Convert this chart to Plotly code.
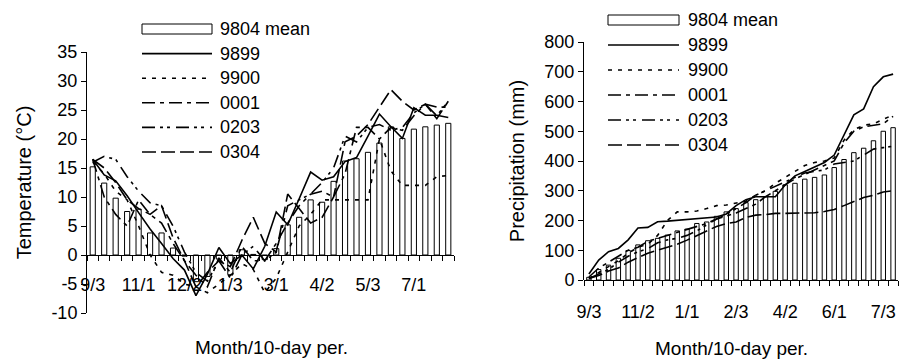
import plotly.graph_objects as go

# ---------------- data ----------------
periods = ["9/3", "10/1", "10/2", "10/3", "11/1", "11/2", "11/3", "12/1", "12/2", "12/3",
           "1/1", "1/2", "1/3", "2/1", "2/2", "2/3", "3/1", "3/2", "3/3", "4/1", "4/2", "4/3",
           "5/1", "5/2", "5/3", "6/1", "6/2", "6/3", "7/1", "7/2", "7/3", "8/1"]

series_names = ["9804 mean", "9899", "9900", "0001", "0203", "0304"]

temp_mean = [15.2, 12.4, 9.8, 7.5, 7.9, 3.8, 3.8, 1.2, -0.2, -4.6, -3.7, -0.7, -3.4, 0.9, 0.1, -0.8,
             1.1, 5.2, 6.5, 9.5, 9.1, 12.7, 16.2, 16.6, 17.7, 19.3, 22.1, 20.1, 21.7, 22.1, 22.4, 22.7]
temp_9899 = [16.5, 13.8, 12.8, 10.2, 7.3, 4.5, 2.0, -0.6, -2.6, -7.0, -3.3, 1.3, -1.5, 0.0, -2.4, 1.5,
             7.4, 5.2, 9.7, 14.3, 12.9, 13.5, 16.1, 16.8, 20.5, 24.3, 22.1, 20.1, 25.4, 24.1, 24.1, 23.7]
temp_9900 = [16.0, 14.0, 11.0, 9.5, 5.0, 0.0, -3.0, -3.5, -5.0, -5.5, -6.5, -5.0, -3.5, -1.5, -2.5, -6.5,
             -4.0, 0.5, 5.0, 7.0, 9.5, 9.5, 9.5, 9.5, 9.5, 20.0, 14.5, 12.0, 12.0, 12.0, 13.5, 13.7]
temp_0001 = [16.5, 10.0, 7.0, 5.0, 9.5, 7.0, 5.5, 2.0, -1.0, -3.5, -5.5, -0.5, -3.0, 1.5, -1.0, -1.0,
             2.0, 5.5, 8.5, 10.5, 11.0, 10.0, 14.0, 22.0, 22.0, 20.0, 22.0, 21.5, 24.0, 26.0, 25.5, 25.5]
temp_0203 = [16.0, 17.0, 16.5, 13.5, 11.0, 9.0, 8.5, 5.0, 0.5, -3.0, -4.5, -1.0, -4.0, 0.0, 1.5, -1.0,
             0.5, 8.5, 9.5, 10.5, 12.5, 15.0, 20.5, 19.5, 22.0, 22.5, 21.5, 22.0, 24.5, 26.0, 24.0, 26.5]
temp_0304 = [16.5, 15.0, 12.5, 9.5, 8.0, 7.0, 8.5, 3.0, -1.0, -5.5, -3.0, -1.0, -2.0, 2.5, 6.5, 2.0,
             0.5, 10.5, 8.0, 5.5, 6.5, 10.0, 19.5, 20.5, 22.5, 25.5, 28.5, 26.5, 25.0, 26.0, 23.5, 26.5]

prec_mean = [9, 35, 50, 73, 99, 118, 132, 140, 151, 165, 171, 190, 195, 214, 229, 240,
             260, 270, 280, 298, 320, 325, 339, 345, 353, 378, 405, 428, 443, 468, 500, 512]
prec_9899 = [20, 67, 95, 106, 135, 175, 177, 196, 198, 201, 204, 207, 210, 212, 222, 250,
             270, 280, 280, 280, 319, 350, 365, 380, 395, 420, 490, 555, 575, 650, 683, 692]
prec_9900 = [5, 25, 45, 65, 90, 110, 120, 150, 200, 229, 229, 232, 240, 250, 252, 258,
             265, 285, 300, 325, 345, 365, 385, 395, 400, 410, 470, 505, 520, 525, 540, 555]
prec_0001 = [10, 40, 60, 80, 100, 110, 130, 140, 150, 160, 170, 180, 190, 205, 215, 225,
             240, 255, 280, 300, 320, 340, 355, 370, 385, 400, 460, 500, 515, 520, 525, 550]
prec_0203 = [5, 20, 35, 60, 80, 95, 105, 125, 135, 140, 150, 165, 185, 205, 220, 240,
             260, 285, 300, 315, 330, 345, 360, 365, 370, 390, 395, 400, 420, 440, 445, 450]
prec_0304 = [5, 15, 30, 40, 60, 75, 90, 100, 110, 120, 134, 150, 165, 180, 190, 195,
             210, 218, 220, 224, 224, 224, 224, 226, 230, 237, 250, 263, 277, 285, 296, 300]

temp_ticks = [-10, -5, 0, 5, 10, 15, 20, 25, 30, 35]
prec_ticks = [0, 100, 200, 300, 400, 500, 600, 700, 800]

temp_lines = [temp_9899, temp_9900, temp_0001, temp_0203, temp_0304]
prec_lines = [prec_9899, prec_9900, prec_0001, prec_0203, prec_0304]

# ---------------- styling ----------------
W, H = 900, 361
FONT = "Arial, Liberation Sans, sans-serif"
dashes = ["solid", "4px,6px", "13px,5px,4px,5px", "13px,5px,3px,4px,3px,6px", "14px,5px"]
LW = 1.6


def fx(x):
    return x / W


def fy(y):
    return 1 - y / H


n = len(periods)
xr = [-0.5, n - 0.5]

fig = go.Figure()

# left chart (temperature)
fig.add_trace(go.Bar(x=periods, y=temp_mean, name=series_names[0], xaxis="x", yaxis="y",
                     marker=dict(color="white", line=dict(color="black", width=1)),
                     showlegend=False))
for name, vals, d in zip(series_names[1:], temp_lines, dashes):
    fig.add_trace(go.Scatter(x=periods, y=vals, name=name, mode="lines", xaxis="x", yaxis="y",
                             line=dict(color="black", width=LW, dash=d), showlegend=False))

# right chart (precipitation)
fig.add_trace(go.Bar(x=periods, y=prec_mean, name=series_names[0], xaxis="x2", yaxis="y2",
                     marker=dict(color="white", line=dict(color="black", width=1)),
                     showlegend=False))
for name, vals, d in zip(series_names[1:], prec_lines, dashes):
    fig.add_trace(go.Scatter(x=periods, y=vals, name=name, mode="lines", xaxis="x2", yaxis="y2",
                             line=dict(color="black", width=LW, dash=d), showlegend=False))

# geometry
xdom1 = [fx(87), fx(454)]
ydom1 = [fy(313), fy(52)]
xdom2 = [fx(584), fx(898)]
ydom2 = [fy(280), fy(42)]
yr1 = [temp_ticks[0], temp_ticks[-1]]
yr2 = [prec_ticks[0], prec_ticks[-1]]
zero1 = ydom1[0] + (0 - yr1[0]) / (yr1[1] - yr1[0]) * (ydom1[1] - ydom1[0])
zero2 = ydom2[0]

tickfont = dict(family=FONT, size=18, color="black")

base_x = dict(type="category", categoryorder="array", categoryarray=periods, range=xr,
              showline=True, linecolor="black", linewidth=1, ticks="outside", ticklen=5,
              tickcolor="black", tickson="boundaries", tickmode="array", tickvals=periods,
              tickfont=tickfont, tickangle=0, automargin=False,
              showgrid=False, zeroline=False, anchor="free")
base_y = dict(showline=True, linecolor="black", linewidth=1, ticks="outside", ticklen=5,
              tickcolor="black", showgrid=False, zeroline=False, tickfont=tickfont,
              automargin=False, tickmode="array")

fig.update_layout(
    width=W, height=H, margin=dict(l=0, r=0, t=0, b=0, autoexpand=False),
    paper_bgcolor="white", plot_bgcolor="rgba(0,0,0,0)",
    font=dict(family=FONT, size=18, color="black"),
    bargap=0.55, showlegend=False,
    xaxis=dict(base_x, domain=xdom1, position=zero1, ticklabelstandoff=13,
               ticktext=[p if i % 4 == 0 else "" for i, p in enumerate(periods)]),
    yaxis=dict(base_y, domain=ydom1, range=yr1, anchor="x",
               tickvals=temp_ticks, ticktext=[str(v) for v in temp_ticks],
               title=dict(text="Temperature (°C)", font=dict(family=FONT, size=20), standoff=14)),
    xaxis2=dict(base_x, domain=xdom2, position=zero2, ticklabelstandoff=15,
                ticktext=[p if i % 5 == 0 else "" for i, p in enumerate(periods)]),
    yaxis2=dict(base_y, domain=ydom2, range=yr2, anchor="x2",
                tickvals=prec_ticks, ticktext=[str(v) for v in prec_ticks],
                title=dict(text="Precipitation (mm)", font=dict(family=FONT, size=20), standoff=14)),
)

# x-axis titles
fig.add_annotation(text="Month/10-day per.", x=fx(271), y=fy(347), xref="paper", yref="paper",
                   xanchor="center", yanchor="middle", showarrow=False, font=dict(family=FONT, size=19))
fig.add_annotation(text="Month/10-day per.", x=fx(731), y=fy(348), xref="paper", yref="paper",
                   xanchor="center", yanchor="middle", showarrow=False, font=dict(family=FONT, size=19))

# custom legends (long symbols as in the original)
legends = [dict(x0=142, x1=212, tx=218, y0=29, step=24.6),
           dict(x0=608, x1=679, tx=686, y0=20, step=25.0)]
for lg in legends:
    for k, name in enumerate(series_names):
        yy = lg["y0"] + k * lg["step"]
        if k == 0:
            fig.add_shape(type="rect", xref="paper", yref="paper",
                          x0=fx(lg["x0"]), x1=fx(lg["x1"]), y0=fy(yy - 5), y1=fy(yy + 5),
                          line=dict(color="black", width=1), fillcolor="white")
        else:
            fig.add_shape(type="line", xref="paper", yref="paper",
                          x0=fx(lg["x0"]), x1=fx(lg["x1"]), y0=fy(yy), y1=fy(yy),
                          line=dict(color="black", width=LW, dash=dashes[k - 1]))
        fig.add_annotation(text=name, x=fx(lg["tx"]), y=fy(yy), xref="paper", yref="paper",
                           xanchor="left", yanchor="middle", showarrow=False,
                           font=dict(family=FONT, size=18))

fig.write_html("out.html")
